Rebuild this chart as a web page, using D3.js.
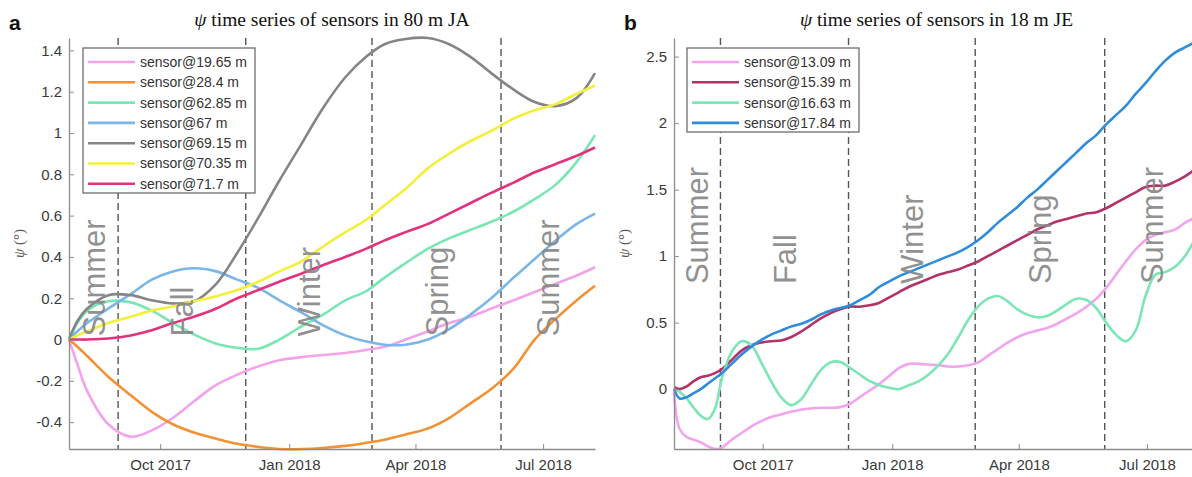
<!DOCTYPE html>
<html>
<head>
<meta charset="utf-8">
<script src="https://cdn.jsdelivr.net/npm/d3@7"></script>
<style>
  body { margin: 0; background: #fff; }
  svg { display: block; font-family: "Liberation Sans", Arial, sans-serif; }
</style>
</head>
<body>
<svg id="chart" width="1192" height="477"></svg>
<script>
const parse = d3.timeParse("%Y-%m-%d");

// ---------- panel a : 80 m JA ----------
const datesA = ["2017-07-28","2017-08-03","2017-08-10","2017-08-25","2017-09-10","2017-09-25",
  "2017-10-10","2017-10-25","2017-11-10","2017-11-25","2017-12-10","2017-12-25","2018-01-10",
  "2018-01-25","2018-02-10","2018-02-25","2018-03-10","2018-03-25","2018-04-10","2018-04-25",
  "2018-05-10","2018-05-25","2018-06-10","2018-06-25","2018-07-10","2018-07-25","2018-08-07"];

const sensor1965 = [0,-0.12,-0.25,-0.41,-0.47,-0.44,-0.38,-0.30,-0.22,-0.17,-0.13,-0.10,-0.085,
  -0.075,-0.065,-0.05,-0.035,0.0,0.04,0.08,0.11,0.15,0.19,0.23,0.27,0.31,0.35];
const sensor284 = [0,-0.035,-0.08,-0.18,-0.27,-0.35,-0.41,-0.45,-0.48,-0.505,-0.52,-0.53,-0.53,
  -0.525,-0.515,-0.50,-0.485,-0.46,-0.43,-0.38,-0.31,-0.24,-0.14,0.0,0.1,0.19,0.26];
const sensor6285 = [0,0.08,0.14,0.185,0.18,0.14,0.08,0.025,-0.02,-0.04,-0.045,0.0,0.065,0.12,
  0.19,0.235,0.30,0.37,0.44,0.49,0.53,0.57,0.62,0.68,0.75,0.86,0.99];
const sensor67 = [0,0.04,0.08,0.15,0.22,0.29,0.33,0.345,0.33,0.29,0.25,0.19,0.13,0.07,0.02,
  -0.01,-0.025,-0.025,0.0,0.05,0.12,0.2,0.3,0.39,0.48,0.56,0.61];
const sensor6915 = [0,0.09,0.15,0.215,0.215,0.19,0.175,0.185,0.27,0.42,0.59,0.77,0.95,1.12,1.27,
  1.37,1.43,1.455,1.46,1.43,1.37,1.29,1.21,1.15,1.13,1.17,1.29];
const sensor7035 = [0,0.02,0.04,0.08,0.11,0.14,0.16,0.185,0.21,0.24,0.28,0.33,0.38,0.45,0.52,
  0.58,0.65,0.73,0.83,0.90,0.96,1.01,1.07,1.11,1.14,1.19,1.23];
const sensor717 = [0,0.0,0.0,0.005,0.02,0.045,0.08,0.11,0.15,0.2,0.24,0.28,0.32,0.36,0.40,0.44,
  0.48,0.52,0.56,0.61,0.66,0.71,0.76,0.81,0.85,0.89,0.93];

const namesA = ["sensor@19.65 m","sensor@28.4 m","sensor@62.85 m","sensor@67 m",
  "sensor@69.15 m","sensor@70.35 m","sensor@71.7 m"];
const colorsA = ["#f4a3ea","#f29235","#7ae6b4","#7ab6e8","#858585","#f4ef3a","#e2317d"];

// ---------- panel b : 18 m JE ----------
const datesB = ["2017-07-30","2017-08-03","2017-08-08","2017-08-13","2017-08-18","2017-08-23",
  "2017-08-28","2017-09-02","2017-09-09","2017-09-16","2017-09-23","2017-09-30","2017-10-07",
  "2017-10-14","2017-10-21","2017-10-28","2017-11-04","2017-11-11","2017-11-18","2017-11-25",
  "2017-12-02","2017-12-09","2017-12-16","2017-12-23","2017-12-30","2018-01-06","2018-01-13",
  "2018-01-20","2018-01-27","2018-02-03","2018-02-10","2018-02-17","2018-02-24","2018-03-03",
  "2018-03-10","2018-03-17","2018-03-24","2018-03-31","2018-04-07","2018-04-14","2018-04-21",
  "2018-04-28","2018-05-05","2018-05-12","2018-05-19","2018-05-26","2018-06-02","2018-06-09",
  "2018-06-16","2018-06-23","2018-06-30","2018-07-07","2018-07-14","2018-07-21","2018-07-28",
  "2018-08-04","2018-08-07"];

const sensor1309 = [-0.02,-0.3,-0.36,-0.38,-0.40,-0.43,-0.45,-0.44,-0.38,-0.33,-0.28,-0.24,-0.21,
  -0.19,-0.17,-0.155,-0.145,-0.14,-0.14,-0.135,-0.11,-0.06,-0.01,0.04,0.1,0.16,0.19,0.19,0.185,
  0.18,0.17,0.17,0.18,0.2,0.25,0.3,0.35,0.39,0.42,0.44,0.46,0.49,0.53,0.57,0.62,0.68,0.76,0.86,
  0.96,1.05,1.12,1.16,1.18,1.2,1.25,1.29,1.31];
const sensor1539 = [0.015,0.0,0.02,0.06,0.09,0.1,0.12,0.15,0.22,0.29,0.33,0.35,0.36,0.365,0.39,
  0.43,0.48,0.53,0.57,0.6,0.62,0.62,0.63,0.65,0.69,0.73,0.77,0.8,0.83,0.86,0.88,0.9,0.93,0.96,
  1.0,1.04,1.08,1.12,1.16,1.2,1.23,1.26,1.28,1.3,1.32,1.33,1.36,1.4,1.44,1.48,1.52,1.53,1.53,
  1.56,1.6,1.65,1.67];
const sensor1663 = [0.0,-0.02,-0.07,-0.14,-0.2,-0.225,-0.15,0.08,0.28,0.36,0.33,0.2,0.06,-0.06,
  -0.12,-0.08,0.03,0.14,0.2,0.205,0.16,0.11,0.06,0.03,0.01,0.0,0.03,0.06,0.11,0.18,0.27,0.39,
  0.52,0.62,0.68,0.70,0.66,0.6,0.56,0.54,0.55,0.59,0.64,0.68,0.67,0.61,0.5,0.41,0.36,0.44,0.7,
  0.86,0.88,0.92,1.0,1.12,1.16];
const sensor1784 = [0.0,-0.07,-0.06,-0.03,0.0,0.04,0.08,0.12,0.19,0.26,0.32,0.37,0.41,0.44,0.47,
  0.49,0.52,0.56,0.59,0.61,0.63,0.67,0.71,0.77,0.81,0.85,0.88,0.91,0.94,0.97,1.0,1.03,1.07,1.12,
  1.18,1.25,1.31,1.37,1.44,1.5,1.57,1.64,1.71,1.78,1.85,1.91,1.99,2.06,2.13,2.22,2.3,2.39,2.47,
  2.53,2.57,2.61,2.64];

const namesB = ["sensor@13.09 m","sensor@15.39 m","sensor@16.63 m","sensor@17.84 m"];
const colorsB = ["#f2a4ee","#b3326a","#7ce6b4","#2f8cdc"];

// ---------- shared ----------
const seasons = ["Summer","Fall","Winter","Spring","Summer"];
const seasonBreaks = ["2017-09-01","2017-12-01","2018-03-01","2018-06-01"];
const monthTicks = ["2017-10-01","2018-01-01","2018-04-01","2018-07-01"];
const yTicksA = [-0.4,-0.2,0,0.2,0.4,0.6,0.8,1,1.2,1.4];
const yTicksB = [0,0.5,1,1.5,2,2.5];

const svg = d3.select("#chart");

function drawPanel(p) {
  const dates = p.dates.map(parse);
  const allVals = p.series.flat();

  const x = d3.scaleTime().domain(d3.extent(dates)).range([p.left, p.right]);
  const y = d3.scaleLinear().domain(d3.extent(allVals)).range([p.bottom, p.top]);

  const g = svg.append("g");

  // season boundaries
  g.selectAll(".season-line")
    .data(seasonBreaks.map(parse))
    .join("line")
    .attr("x1", d => x(d)).attr("x2", d => x(d))
    .attr("y1", p.top).attr("y2", p.bottom)
    .attr("stroke", "#555")
    .attr("stroke-width", 1.4)
    .attr("stroke-dasharray", "7,4");

  // lines
  const line = d3.line()
    .x((d, i) => x(dates[i]))
    .y(d => y(d))
    .curve(d3.curveCatmullRom.alpha(0.5));

  g.selectAll(".series")
    .data(p.series)
    .join("path")
    .attr("fill", "none")
    .attr("stroke", (d, i) => p.colors[i])
    .attr("stroke-width", 2.6)
    .attr("stroke-linejoin", "round")
    .attr("d", line);

  // season labels
  const bounds = [x.domain()[0]].concat(seasonBreaks.map(parse), [x.domain()[1]]);
  g.selectAll(".season")
    .data(seasons)
    .join("text")
    .attr("transform", (d, i) => {
      const cx = (x(bounds[i]) + x(bounds[i + 1])) / 2;
      return `translate(${cx},${y(p.seasonY)}) rotate(-90)`;
    })
    .attr("dy", "0.36em")
    .style("font-size", "31px")
    .style("fill", "#868686")
    .style("fill-opacity", 0.92)
    .text(d => d);

  // axes
  const axisColor = "#8c8c8c";
  const xAxis = g.append("g")
    .attr("transform", `translate(0,${p.bottom})`)
    .call(d3.axisBottom(x)
      .tickValues(monthTicks.map(parse))
      .tickFormat(d3.timeFormat("%b %Y"))
      .tickSizeInner(-5).tickSizeOuter(0).tickPadding(10));

  const yAxis = g.append("g")
    .attr("transform", `translate(${p.left},0)`)
    .call(d3.axisLeft(y)
      .tickValues(p.yTicks)
      .tickFormat(d => String(d))
      .tickSizeInner(-5).tickSizeOuter(0).tickPadding(7));

  [xAxis, yAxis].forEach(a => {
    a.select(".domain").attr("stroke", axisColor).attr("stroke-width", 1.3);
    a.selectAll(".tick line").attr("stroke", axisColor);
    a.selectAll(".tick text")
      .style("font-family", "'Liberation Sans', Arial, sans-serif")
      .style("font-size", "15px")
      .style("fill", "#3a3a3a");
  });

  // legend
  const lg = g.append("g");
  lg.append("rect")
    .attr("x", p.legend.x).attr("y", p.legend.y)
    .attr("width", p.legend.w).attr("height", p.legend.h)
    .attr("fill", "#fff")
    .attr("stroke", "#6e6e6e")
    .attr("stroke-width", 1.3);

  const rows = lg.selectAll(".row")
    .data(p.names)
    .join("g")
    .attr("transform", (d, i) => `translate(${p.legend.x},${p.legend.y + 14 + i * p.legend.step})`);

  rows.append("line")
    .attr("x1", 5).attr("x2", 52)
    .attr("stroke", (d, i) => p.colors[i])
    .attr("stroke-width", 2.6);

  rows.append("text")
    .attr("x", 57)
    .attr("dy", "0.35em")
    .style("font-size", "14px")
    .style("fill", "#333")
    .text(d => d);

  // title
  const title = g.append("text")
    .attr("x", (p.left + p.right) / 2)
    .attr("y", 26)
    .attr("text-anchor", "middle")
    .style("font-family", "'Liberation Serif', 'Times New Roman', serif")
    .style("font-size", "19.5px")
    .style("fill", "#111");
  title.append("tspan").style("font-style", "italic").text("ψ");
  title.append("tspan").text(" " + p.title);

  // y label
  const yl = g.append("text")
    .attr("transform", `translate(${p.left - 45},${(p.top + p.bottom) / 2}) rotate(-90)`)
    .attr("text-anchor", "middle")
    .style("font-family", "'Liberation Serif', 'Times New Roman', serif")
    .style("font-size", "15px")
    .style("fill", "#555");
  yl.append("tspan").style("font-style", "italic").text("ψ");
  yl.append("tspan").text(" (°)");

  // panel letter
  g.append("text")
    .attr("x", p.letterX)
    .attr("y", 30)
    .style("font-size", "21px")
    .style("font-weight", "bold")
    .style("fill", "#111")
    .text(p.letter);
}

drawPanel({
  dates: datesA,
  series: [sensor1965, sensor284, sensor6285, sensor67, sensor6915, sensor7035, sensor717],
  names: namesA, colors: colorsA,
  left: 69, right: 595, top: 38, bottom: 449,
  yTicks: yTicksA, seasonY: 0.015,
  legend: { x: 83, y: 48, w: 172, h: 145, step: 20.3 },
  title: "time series of sensors in 80 m JA",
  letter: "a", letterX: 9
});

drawPanel({
  dates: datesB,
  series: [sensor1309, sensor1539, sensor1663, sensor1784],
  names: namesB, colors: colorsB,
  left: 674, right: 1199, top: 38, bottom: 449,
  yTicks: yTicksB, seasonY: 0.79,
  legend: { x: 687, y: 48, w: 172, h: 84, step: 20.3 },
  title: "time series of sensors in 18 m JE",
  letter: "b", letterX: 624
});
</script>
</body>
</html>
